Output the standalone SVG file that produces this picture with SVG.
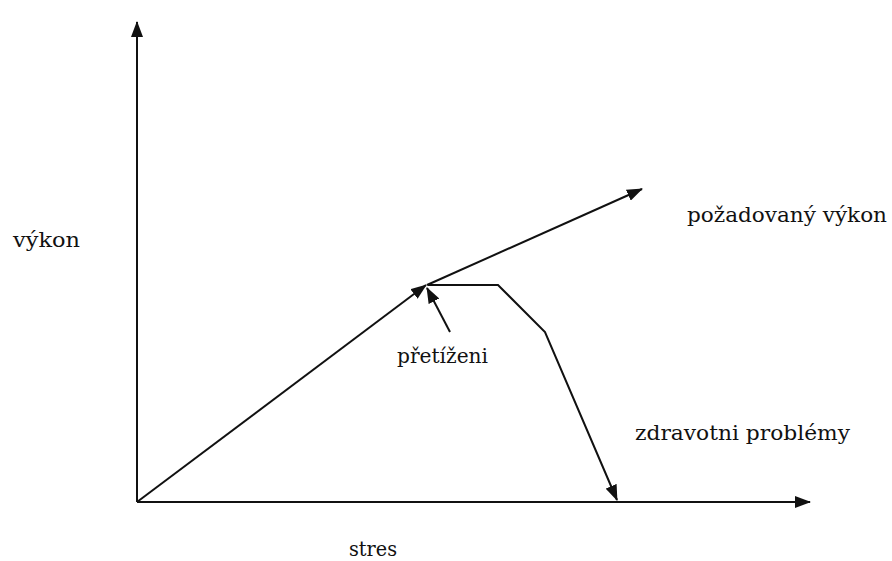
<svg xmlns="http://www.w3.org/2000/svg" width="892" height="561" viewBox="0 0 892 561">
<style>
.ln{stroke:#111;stroke-width:2;fill:none}
.t{font-family:"DejaVu Serif","Liberation Serif",serif;font-size:20px;fill:#111}
</style>
<defs>
<marker id="ah" viewBox="0 0 16 12" refX="15" refY="6" markerWidth="16" markerHeight="12" markerUnits="userSpaceOnUse" orient="auto">
<path d="M0,0 L16,6 L0,12 Z" fill="#111"/>
</marker>
</defs>
<rect width="892" height="561" fill="#fff"/>
<g id="connectors">
<line class="ln" x1="137" y1="502" x2="137" y2="22" marker-end="url(#ah)"/>
<line class="ln" x1="137" y1="502" x2="810" y2="502" marker-end="url(#ah)"/>
<line class="ln" x1="137" y1="502" x2="426" y2="285" marker-end="url(#ah)"/>
<line class="ln" x1="427" y1="285" x2="642" y2="189" marker-end="url(#ah)"/>
<polyline class="ln" points="428,285 498,285 545,332 617,500" marker-end="url(#ah)"/>
<line class="ln" x1="450" y1="332" x2="427" y2="288" marker-end="url(#ah)"/>
</g>
<g id="label-vykon"><text class="t" x="13" y="247" textLength="67" lengthAdjust="spacingAndGlyphs">výkon</text></g>
<g id="label-pozadovany"><text class="t" x="687" y="222" textLength="200" lengthAdjust="spacingAndGlyphs">požadovaný výkon</text></g>
<g id="label-pretizeni"><text class="t" x="397" y="363" textLength="91" lengthAdjust="spacingAndGlyphs">přetíženi</text></g>
<g id="label-zdravotni"><text class="t" x="635" y="440" textLength="215" lengthAdjust="spacingAndGlyphs">zdravotni problémy</text></g>
<g id="label-stres"><text class="t" x="349" y="556" textLength="48" lengthAdjust="spacingAndGlyphs">stres</text></g>
</svg>
